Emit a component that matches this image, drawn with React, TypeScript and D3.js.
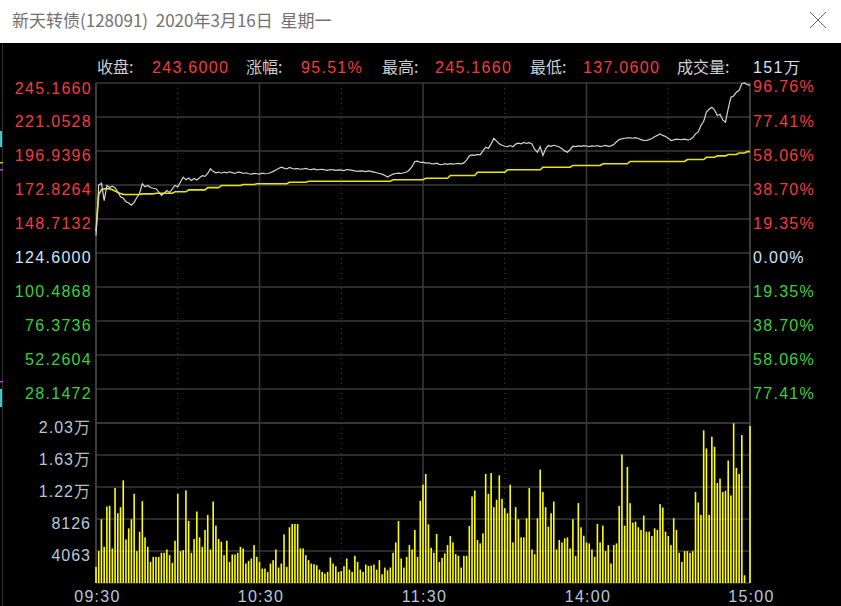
import React from 'react';
import * as d3 from 'd3';

const W = 841;
const H = 606;

const PRE_CLOSE = 124.6;
const PRICE_MIN = 4.034;
const PRICE_MAX = 245.166;
const VOL_MAX = 20315;

const priceTicks = [245.166, 221.0528, 196.9396, 172.8264, 148.7132, 124.6, 100.4868, 76.3736, 52.2604, 28.1472];
const pctTicks = ['96.76%', '77.41%', '58.06%', '38.70%', '19.35%', '0.00%', '19.35%', '38.70%', '58.06%', '77.41%'];
const volTicks = [20315, 16252, 12189, 8126, 4063];
const volTickNums = ['2.03', '1.63', '1.22', '8126', '4063'];
const volTickUnits = ['万', '万', '万', '', ''];
const timeLabels = ['09:30', '10:30', '11:30', '14:00', '15:00'];
const timeLabelMinutes = [0, 60, 120, 180, 240];
const solidMinutes = [60, 120, 180];
const dottedMinutes = [30, 90, 150, 210];

const infoLabels = ['收盘:', '涨幅:', '最高:', '最低:', '成交量:'];
const infoValues = ['243.6000', '95.51%', '245.1660', '137.0600', '151万'];

// minute-by-minute last price (index = minutes since 09:30, trading time)
const price = [
  137.06, 172.8, 174.0, 161.8, 172.5, 171.0, 172.0, 170.8, 168.0, 164.5,
  163.5, 161.0, 160.0, 158.5, 160.5, 164.0, 167.0, 173.7, 171.5, 172.5,
  171.0, 170.5, 170.2, 168.0, 165.4, 167.0, 168.9, 167.5, 170.0, 172.5,
  171.5, 175.0, 178.4, 176.5, 177.8, 176.0, 177.5, 176.4, 178.0, 179.5,
  179.0, 181.0, 184.3, 182.5, 181.5, 182.0, 181.2, 182.0, 181.5, 182.2,
  181.6, 181.0, 182.0, 181.8, 181.0, 181.5, 180.8, 180.5, 181.0, 180.8,
  180.5, 181.2, 180.8, 181.0, 181.5, 182.5, 183.5, 184.5, 185.5, 184.8,
  184.2, 185.3, 184.5, 184.2, 184.5, 184.0, 184.2, 184.6, 184.0, 183.8,
  184.2, 183.6, 183.8, 184.0, 183.5, 183.2, 183.8, 183.5, 183.2, 183.6,
  183.4, 183.0, 183.8, 183.5, 183.2, 182.8, 182.5, 182.8, 182.6, 182.3,
  182.8, 182.5, 182.0, 181.5, 181.0, 180.5, 179.5, 178.4, 179.5, 180.5,
  181.0, 181.2, 181.0, 181.5, 182.0, 183.5, 186.0, 189.5, 189.7, 188.8,
  189.0, 188.3, 188.6, 188.0, 187.8, 188.3, 187.5, 187.2, 187.9, 187.5,
  188.0, 187.6, 187.9, 188.2, 187.8, 188.5, 190.5, 193.5, 194.2, 193.8,
  194.5, 194.2, 197.0, 199.6, 198.8, 202.0, 206.0, 204.0, 202.0, 201.0,
  200.3, 200.1, 200.8, 200.0, 201.8, 202.5, 202.0, 203.0, 202.3, 202.8,
  202.0, 198.0, 196.1, 200.0, 193.7, 198.5, 200.8, 200.2, 201.0, 200.5,
  199.8, 198.5, 197.0, 196.1, 198.0, 200.3, 200.0, 200.6, 200.2, 200.8,
  200.5, 200.0, 200.6, 200.3, 200.8, 200.1, 200.5, 200.9, 200.3, 200.6,
  201.5, 203.5, 205.0, 205.6, 206.0, 206.3, 206.2, 206.0, 206.4, 205.8,
  205.0, 204.5, 204.4, 205.0, 205.8, 207.0, 208.0, 209.1, 208.0, 207.2,
  206.0, 204.4, 204.8, 205.3, 205.1, 205.0, 205.4, 204.9, 205.1, 206.5,
  209.1, 210.5, 215.0, 218.0, 224.5, 226.5, 228.0, 226.0, 222.1, 223.0,
  219.0, 217.4, 226.9, 235.1, 236.0, 238.6, 240.0, 244.6, 245.166, 244.0,
  243.6,
];

// minute-by-minute average price
const avgPrice = [
  140.0, 166.0, 169.5, 170.1, 170.3, 170.1, 169.5, 168.5, 167.5, 166.8,
  166.2, 166.1, 166.1, 166.1, 166.1, 166.1, 166.1, 166.5, 166.5, 166.5,
  166.5, 166.5, 167.0, 167.0, 167.0, 167.0, 167.0, 167.0, 167.0, 168.0,
  168.0, 168.0, 168.0, 168.0, 169.4, 169.4, 169.4, 169.4, 169.4, 169.4,
  169.4, 171.0, 171.0, 171.0, 171.0, 171.0, 172.5, 172.5, 172.5, 172.5,
  172.5, 172.5, 172.5, 172.5, 173.2, 173.2, 173.2, 173.2, 173.2, 173.7,
  173.7, 173.7, 173.7, 173.7, 173.7, 173.7, 173.7, 173.7, 173.7, 173.7,
  173.7, 174.8, 174.8, 174.8, 174.8, 174.8, 174.8, 174.8, 175.5, 175.5,
  175.5, 175.5, 175.5, 175.5, 175.5, 175.5, 175.5, 175.5, 175.5, 175.5,
  175.5, 175.5, 175.5, 175.5, 175.5, 175.5, 175.5, 175.5, 175.5, 175.5,
  175.5, 175.5, 175.5, 175.5, 175.5, 175.5, 175.5, 175.5, 175.5, 176.5,
  176.5, 176.5, 176.5, 176.5, 176.5, 176.5, 176.5, 176.5, 176.5, 176.5,
  176.5, 177.6, 177.6, 177.6, 177.6, 177.6, 177.6, 177.6, 177.6, 177.6,
  179.6, 179.6, 179.6, 179.6, 179.6, 179.6, 179.6, 179.6, 179.6, 179.6,
  181.9, 181.9, 181.9, 181.9, 181.9, 181.9, 181.9, 181.9, 181.9, 181.9,
  181.9, 183.6, 183.6, 183.6, 183.6, 183.6, 183.6, 183.6, 183.6, 183.6,
  183.6, 183.6, 183.6, 183.6, 185.4, 185.4, 185.4, 185.4, 185.4, 185.4,
  185.4, 185.4, 185.4, 185.4, 185.4, 186.7, 186.7, 186.7, 186.7, 186.7,
  186.7, 186.7, 186.7, 186.7, 186.7, 186.7, 187.9, 187.9, 187.9, 187.9,
  187.9, 187.9, 187.9, 187.9, 187.9, 187.9, 189.5, 189.5, 189.5, 189.5,
  189.5, 189.5, 189.5, 189.5, 189.5, 189.5, 189.5, 189.5, 189.5, 189.5,
  189.5, 189.5, 189.5, 189.5, 189.5, 189.5, 189.5, 190.9, 190.9, 190.9,
  190.9, 190.9, 190.9, 190.9, 192.5, 192.5, 192.5, 192.5, 193.5, 193.5,
  193.5, 193.5, 194.5, 194.5, 194.5, 194.5, 195.5, 195.5, 195.5, 196.5,
  196.5,
];

// minute-by-minute volume
const volume = [
  2045, 4047, 8094, 4601, 9713, 9798, 4388, 12056, 8861, 9628,
  13036, 5538, 6944, 8094, 11332, 4047, 6518, 10394, 5794, 4601,
  2684, 3323, 3323, 3323, 3834, 3834, 4260, 3536, 2556, 5368,
  11332, 4047, 4175, 11758, 7881, 3834, 5581, 9074, 5794, 4601,
  6731, 8648, 4260, 10352, 7285, 5581, 5240, 3536, 5368, 2684,
  3621, 3621, 3834, 4601, 4388, 2471, 2812, 3110, 4814, 3323,
  2684, 1832, 1832, 1406, 2471, 2897, 4260, 1960, 2471, 6177,
  2045, 7072, 7498, 7498, 7498,
  4388, 4388, 3536, 2897, 2471, 2386, 2258, 1704, 1406, 1193,
  1406, 3238, 2471, 2130, 1406, 1534, 2130, 3110, 1704, 1406,
  3451, 2684, 1704, 1406, 2343, 2173, 2200, 2343, 1704, 2897, 1108,
  1960, 1619, 1960, 3834, 5155, 7881, 3110, 1960, 3323, 4814,
  4260, 6731, 3323, 10437, 12482, 13845, 7455, 4473, 3834, 6220,
  2684, 3195, 3749, 4814, 5964, 5155, 3664, 3451, 1960, 3451,
  3451, 7242, 10991, 11715, 5453, 5027, 6305, 13845, 11332, 13973,
  9628, 10565, 13675, 10693, 9500, 8861, 12482, 5155, 9628, 8094,
  5794, 5794, 8222, 12056, 4260, 3664, 8222, 14399, 11545, 9628,
  7157, 8861, 10352, 4260, 5453, 5155, 5666, 5794, 4388, 8094,
  3451,
  10139, 7072, 6000, 5155, 5027, 4260, 3323, 7498, 5155, 7285,
  4047, 4814, 2471, 4814, 5027, 9798, 16316, 7285, 14740, 10139,
  7668, 7796, 7072, 6731, 8563, 6518, 6518, 5964, 6944, 6731,
  10011, 9585, 6518, 5964, 4814, 8222, 6731, 3834, 2684, 4047,
  4047, 3834, 4047, 11545, 10224, 8648, 19383, 17083, 8648, 18574,
  17296, 12695, 13249, 11545, 11715, 15549, 11119, 20278, 14612, 13845,
  18787, 980, 0, 19937,
];

const RED = '#f53b3b';
const GREEN = '#3ad23a';
const NEUTRAL = '#d2e4f8';
const AXIS_TEXT = '#b8c8da';
const GRID = '#3a3a3a';
const NUM_FONT = '"Liberation Sans", Arial, sans-serif';
const CJK_FONT = '"Noto Sans CJK SC", "Noto Sans", sans-serif';

export default function App() {
  const left = 96;
  const right = 750;
  const priceTop = 83;
  const priceBottom = 423;
  const volBottom = 583;

  const x = d3.scaleLinear().domain([0, 240]).range([left, right]);
  const yP = d3.scaleLinear().domain([PRICE_MIN, PRICE_MAX]).range([priceBottom, priceTop]);
  const yV = d3.scaleLinear().domain([0, VOL_MAX]).range([volBottom, priceBottom]);

  const priceLine = d3.line<number>().x((_, i) => x(i)).y((d) => yP(d));
  const avgLine = d3.line<number>().x((_, i) => x(i)).y((d) => yP(d));

  const tickColor = (v: number) => (Math.abs(v - PRE_CLOSE) < 1e-6 ? NEUTRAL : v > PRE_CLOSE ? RED : GREEN);

  const infoLabelX = [97, 246, 382, 530, 677];
  const infoValueX = [152, 301, 435, 583, 753];

  return (
    <svg
      width={W}
      height={H}
      style={{ position: 'absolute', left: 0, top: 0, display: 'block' }}
      xmlns="http://www.w3.org/2000/svg"
    >
      <rect x={0} y={0} width={W} height={H} fill="#000" />
      {/* title bar */}
      <rect x={0} y={0} width={W} height={43} fill="#fff" />
      <text x={12} y={27} fontFamily={CJK_FONT} fontSize={17} fill="#717171">
        新天转债(128091)&#160;&#160;2020年3月16日&#160;&#160;星期一
      </text>
      <line x1={810} y1={12} x2={826} y2={28} stroke="#666" strokeWidth={1} />
      <line x1={826} y1={12} x2={810} y2={28} stroke="#666" strokeWidth={1} />

      {/* left edge artifacts */}
      <line x1={2.5} y1={44} x2={2.5} y2={H} stroke="#333" strokeWidth={1} />
      <rect x={0} y={131} width={2} height={16} fill="#3fc8c8" />
      <rect x={0} y={162} width={3} height={1.5} fill="#c8c800" />
      <rect x={0} y={169} width={3} height={1.5} fill="#c040c0" />
      <rect x={0} y={381} width={3} height={1.5} fill="#c040c0" />
      <rect x={0} y={389} width={2} height={18} fill="#3fc8c8" />

      {/* info line */}
      {infoLabels.map((l, i) => (
        <text key={'il' + i} x={infoLabelX[i]} y={72.5} fontFamily={CJK_FONT} fontSize={16} fill="#cfcfcf">
          {l}
        </text>
      ))}
      {infoValues.map((v, i) => (
        <text
          key={'iv' + i}
          x={infoValueX[i]}
          y={72.5}
          fontFamily={NUM_FONT}
          fontSize={16}
          letterSpacing={1.3}
          fill={i === 4 ? NEUTRAL : RED}
        >
          {v}
        </text>
      ))}

      {/* horizontal grid - price */}
      {priceTicks.map((v, i) => (
        <line key={'pg' + i} x1={left} x2={right} y1={yP(v)} y2={yP(v)} stroke={GRID} strokeWidth={1.5} />
      ))}
      <line x1={left} x2={right} y1={priceBottom} y2={priceBottom} stroke={GRID} strokeWidth={1.5} />
      {/* horizontal grid - volume */}
      {volTicks.map((v, i) => (
        <line key={'vg' + i} x1={left} x2={right} y1={yV(v)} y2={yV(v)} stroke={GRID} strokeWidth={1.5} />
      ))}
      <line x1={left} x2={right} y1={volBottom} y2={volBottom} stroke={GRID} strokeWidth={1.5} />

      {/* vertical grid */}
      {solidMinutes.map((m) => (
        <line key={'sv' + m} x1={x(m)} x2={x(m)} y1={priceTop} y2={volBottom} stroke={GRID} strokeWidth={1.5} />
      ))}
      {dottedMinutes.map((m) => (
        <line
          key={'dv' + m}
          x1={x(m)}
          x2={x(m)}
          y1={priceTop}
          y2={volBottom}
          stroke="#4a4a4a"
          strokeWidth={1}
          strokeDasharray="1 4"
        />
      ))}
      <line x1={left} x2={left} y1={priceTop} y2={volBottom} stroke="#505050" strokeWidth={1.5} />
      <line x1={right} x2={right} y1={priceTop} y2={volBottom} stroke="#505050" strokeWidth={1.5} />

      {/* volume bars */}
      {volume.map((v, i) =>
        v > 0 ? (
          <rect key={'vb' + i} x={x(i) - 0.8} y={yV(v)} width={1.6} height={yV(0) - yV(v)} fill="#ffff00" />
        ) : null
      )}

      {/* average and price lines */}
      <path d={avgLine(avgPrice) || ''} fill="none" stroke="#e8e800" strokeWidth={1.6} />
      <path d={priceLine(price) || ''} fill="none" stroke="#d4d4d4" strokeWidth={1.2} />

      {/* left price labels */}
      {priceTicks.map((v, i) => (
        <text
          key={'pl' + i}
          x={92}
          y={i === 0 ? yP(v) + 11 : yP(v) + 9.5}
          textAnchor="end"
          fontFamily={NUM_FONT}
          fontSize={16}
          letterSpacing={1.3}
          fill={tickColor(v)}
        >
          {v.toFixed(4)}
        </text>
      ))}
      {/* right percent labels */}
      {priceTicks.map((v, i) => (
        <text
          key={'pr' + i}
          x={753}
          y={i === 0 ? yP(v) + 9 : yP(v) + 9.5}
          fontFamily={NUM_FONT}
          fontSize={16}
          letterSpacing={1.3}
          fill={tickColor(v)}
        >
          {pctTicks[i]}
        </text>
      ))}
      {/* volume labels */}
      {volTicks.map((v, i) => (
        <text
          key={'vl' + i}
          x={91}
          y={yV(v) + 10}
          textAnchor="end"
          fontFamily={NUM_FONT}
          fontSize={16}
          letterSpacing={1}
          fill={AXIS_TEXT}
        >
          {volTickNums[i]}
          {volTickUnits[i] ? (
            <tspan fontFamily={CJK_FONT} fill="#bdbdbd">
              {volTickUnits[i]}
            </tspan>
          ) : null}
        </text>
      ))}
      {/* time labels */}
      {timeLabels.map((t, i) => (
        <text
          key={'tl' + i}
          x={x(timeLabelMinutes[i]) + 1.5}
          y={602}
          textAnchor="middle"
          fontFamily={NUM_FONT}
          fontSize={16}
          letterSpacing={1.3}
          fill={AXIS_TEXT}
        >
          {t}
        </text>
      ))}
    </svg>
  );
}
